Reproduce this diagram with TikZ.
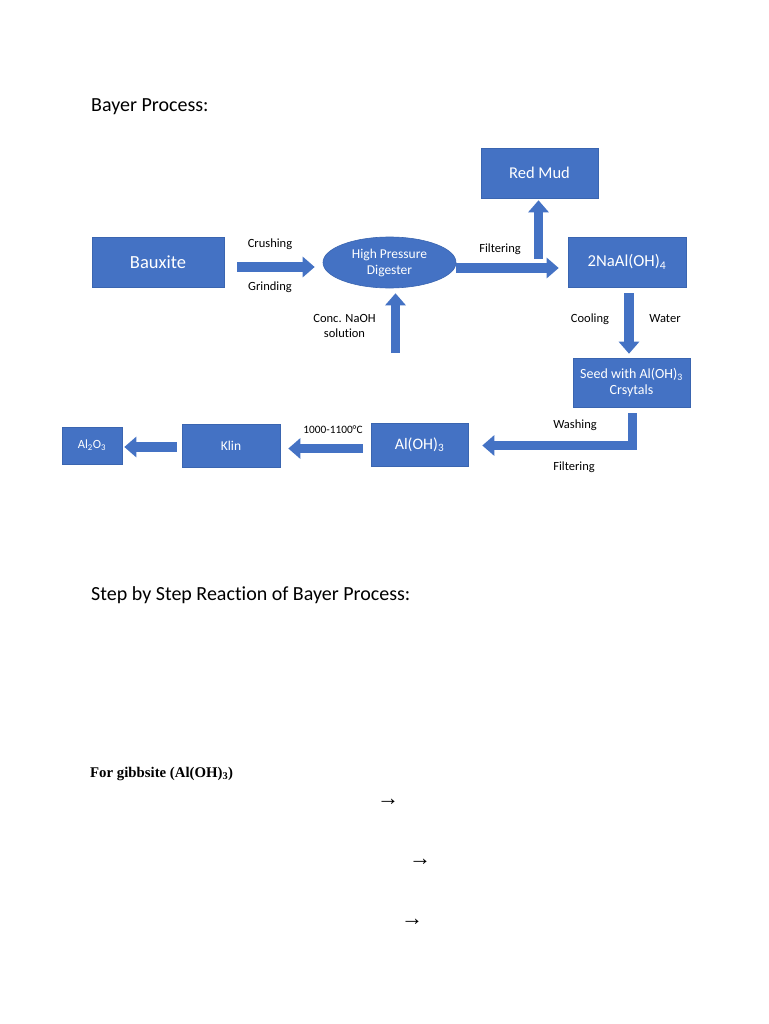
\documentclass[tikz,border=0pt]{standalone}
\usepackage{fontspec}
\setmainfont{Carlito}[Ligatures=NoCommon]
\newfontfamily\timesfont{Liberation Serif}
\usepackage{xcolor}
\usepackage{tikz}
\usetikzlibrary{arrows.meta,shapes.geometric}

\definecolor{bayerblue}{HTML}{4472C4}
\definecolor{bayeredge}{HTML}{3A65B0}

\tikzset{
    procbox/.style={rectangle, fill=bayerblue, draw=bayeredge, line width=0.6pt, text=white, inner sep=0pt, align=center},
    blockarrow/.style={draw=bayerblue, line width=9.5pt, line join=miter, -{Triangle[length=12pt, width=20pt]}},
    steplabel/.style={font=\fontsize{12.5}{14}\selectfont, inner sep=0pt}
}

\begin{document}
\begin{tikzpicture}[x=1pt, y=-1pt]
    \useasboundingbox[fill=white] (0,0) rectangle (768,1024);

    % Headings
    \node[anchor=west, inner sep=0pt, font=\fontsize{20}{23}\selectfont] (title) at (91,107) {Bayer Process:};
    \node[anchor=west, inner sep=0pt, font=\fontsize{20}{23}\selectfont] (steps) at (91,595) {Step by Step Reaction of Bayer Process:};

    % Boxes
    \node[procbox, minimum width=132pt, minimum height=50pt, font=\fontsize{18.5}{21}\selectfont] (bauxite) at (158,262) {Bauxite};
    \node[ellipse, fill=bayerblue, draw=bayeredge, line width=0.6pt, text=white, inner sep=0pt, align=center,
          minimum width=133pt, minimum height=51pt, font=\fontsize{13.5}{16}\selectfont] (digester) at (389.5,262.5) {High Pressure\\Digester};
    \node[procbox, minimum width=117pt, minimum height=50pt, font=\fontsize{16.5}{19}\selectfont] (redmud) at (539.5,173) {Red Mud};
    \node[procbox, minimum width=118pt, minimum height=50pt, font=\fontsize{16.7}{19}\selectfont] (naal) at (627,262) {2NaAl(OH)\textsubscript{4}};
    \node[procbox, minimum width=117pt, minimum height=49pt, font=\fontsize{14}{16.5}\selectfont] (seed) at (631.5,382.5) {Seed with Al(OH)\textsubscript{3}\\Crsytals};
    \node[procbox, minimum width=97pt, minimum height=43pt, font=\fontsize{16}{18}\selectfont] (aloh) at (419.5,444.5) {Al(OH)\textsubscript{3}};
    \node[procbox, minimum width=98pt, minimum height=43pt, font=\fontsize{13.5}{16}\selectfont] (klin) at (231,445.5) {Klin};
    \node[procbox, minimum width=60pt, minimum height=37pt, font=\fontsize{12.5}{15}\selectfont] (alo) at (92,445.5) {Al\textsubscript{2}O\textsubscript{3}};

    % Free ends
    \coordinate (split) at (538.5,268);
    \coordinate (naoh) at (395.5,353);

    % Arrows
    \draw[blockarrow, shorten <=13pt, shorten >=8pt] ([yshift=-5pt]bauxite.east) -- ([yshift=-5pt]bauxite.east -| digester.west);
    \draw[blockarrow, shorten >=9pt] (digester.east |- split) -- (naal.west |- split);
    \draw[blockarrow, shorten <=9pt, shorten >=2pt] (split) -- (split |- redmud.south);
    \draw[blockarrow, shorten <=6pt, shorten >=4pt] ([xshift=2pt]naal.south) -- ([xshift=2pt]naal.south |- seed.north);
    \draw[blockarrow, shorten >=5pt] (naoh) -- (naoh |- digester.south);
    \draw[blockarrow, shorten <=6pt, shorten >=14pt] ([xshift=1pt]seed.south) |- ([yshift=-1pt]aloh.east);
    \draw[blockarrow, shorten <=8pt, shorten >=8pt] ([yshift=-4pt]aloh.west) -- ([yshift=-4pt]aloh.west -| klin.east);
    \draw[blockarrow, shorten <=5pt, shorten >=2pt] ([yshift=-1.5pt]klin.west) -- ([yshift=-1.5pt]klin.west -| alo.east);

    % Labels
    \node[steplabel] (crush) at (270,244) {Crushing};
    \node[steplabel] (grind) at (270,287) {Grinding};
    \node[steplabel] (filt1) at (500,249) {Filtering};
    \node[steplabel, align=center] (conc) at (344.5,326) {Conc. NaOH\\[1pt]solution};
    \node[steplabel] (cool) at (590,319) {Cooling};
    \node[steplabel] (water) at (665,319) {Water};
    \node[steplabel] (wash) at (575,425) {Washing};
    \node[steplabel] (filt2) at (574,467) {Filtering};
    \node[inner sep=0pt, font=\fontsize{11.3}{13}\selectfont] (temp) at (333,430) {1000-1100°C};

    % Reactions
    \node[anchor=west, inner sep=0pt, font=\timesfont\bfseries\fontsize{14.8}{17}\selectfont] (gibb) at (90,774) {For gibbsite (Al(OH)\textsubscript{3})};
    \foreach \x/\y [count=\i] in {388/802, 420/862, 412/922} {
        \node[inner sep=0pt, font=\timesfont\fontsize{22}{24}\selectfont] (rx\i) at (\x,\y) {→};
    }
\end{tikzpicture}
\end{document}
